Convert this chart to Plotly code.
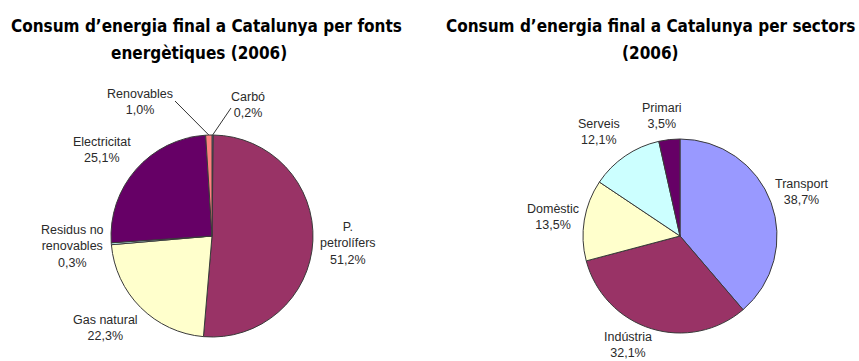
import math
import plotly.graph_objects as go

W, H = 859, 361

# ---- data ----
fonts_labels = ["Carbó", "P.<br>petrolífers", "Gas natural", "Residus no<br>renovables", "Electricitat", "Renovables"]
fonts_values = [0.2, 51.2, 22.3, 0.3, 25.1, 1.0]
fonts_text = ["0,2%", "51,2%", "22,3%", "0,3%", "25,1%", "1,0%"]
fonts_colors = ["#9999FF", "#993366", "#FFFFCC", "#CCFFFF", "#660066", "#FF8080"]

sect_labels = ["Transport", "Indústria", "Domèstic", "Serveis", "Primari"]
sect_values = [38.7, 32.1, 13.5, 12.1, 3.5]
sect_text = ["38,7%", "32,1%", "13,5%", "12,1%", "3,5%"]
sect_colors = ["#9999FF", "#993366", "#FFFFCC", "#CCFFFF", "#660066"]

title_left_lines = ["Consum d’energia final a Catalunya per fonts", "energètiques (2006)"]
title_right_lines = ["Consum d’energia final a Catalunya per sectors", "(2006)"]

# ---- layout geometry (pixels) ----
L_CX, L_CY, L_R = 212, 236, 101
R_CX, R_CY, R_R = 680, 236, 97

def px(x):
    return x / W

def py(y):
    return 1 - y / H

def domain(cx, cy, r):
    return dict(x=[px(cx - r), px(cx + r)], y=[py(cy + r), py(cy - r)])

fig = go.Figure()
fig.add_trace(go.Pie(
    labels=fonts_labels, values=fonts_values, sort=False, direction="clockwise", rotation=0,
    marker=dict(colors=fonts_colors, line=dict(color="#3a3a3a", width=1)),
    textinfo="none", hoverinfo="label+value", domain=domain(L_CX, L_CY, L_R), showlegend=False,
))
fig.add_trace(go.Pie(
    labels=sect_labels, values=sect_values, sort=False, direction="clockwise", rotation=0,
    marker=dict(colors=sect_colors, line=dict(color="#3a3a3a", width=1)),
    textinfo="none", hoverinfo="label+value", domain=domain(R_CX, R_CY, R_R), showlegend=False,
))

label_font = dict(family="Liberation Sans, Arial, sans-serif", size=12.5, color="#2a2a2a")
title_font = dict(family="DejaVu Sans Condensed, sans-serif", size=17, color="#000000")

annotations = []
for lines, xs in [(title_left_lines, (206, 199)), (title_right_lines, (650, 650))]:
    for line, x, y in zip(lines, xs, (26, 53)):
        annotations.append(dict(text=f"<b>{line}</b>", x=px(x), y=py(y), xanchor="center",
                                yanchor="middle", font=title_font))

# label placement (pixel centres)
left_pos = {"Carbó": (248, 105), "P.<br>petrolífers": (348, 243), "Gas natural": (105, 328),
            "Residus no<br>renovables": (72, 246), "Electricitat": (102, 150), "Renovables": (140, 102)}
right_pos = {"Transport": (802, 192), "Indústria": (628, 345), "Domèstic": (553, 217),
             "Serveis": (599, 132), "Primari": (662, 116)}

for lab, t in zip(fonts_labels, fonts_text):
    x, y = left_pos[lab]
    annotations.append(dict(text=f"{lab}<br>{t}", x=px(x), y=py(y), xanchor="center", yanchor="middle",
                            font=label_font))
for lab, t in zip(sect_labels, sect_text):
    x, y = right_pos[lab]
    annotations.append(dict(text=f"{lab}<br>{t}", x=px(x), y=py(y), xanchor="center", yanchor="middle",
                            font=label_font))

for a in annotations:
    a.update(xref="paper", yref="paper", showarrow=False)

# leader lines for the two tiny slices, ending at the slice mid-angle on the rim
def rim_point(values, idx, cx, cy, r):
    tot = sum(values)
    mid = (sum(values[:idx]) + values[idx] / 2) / tot * 2 * math.pi
    return cx + r * math.sin(mid), cy - r * math.cos(mid)

shapes = []
for idx, start in [(fonts_labels.index("Renovables"), (175, 101)), (fonts_labels.index("Carbó"), (231, 108))]:
    ex, ey = rim_point(fonts_values, idx, L_CX, L_CY, L_R)
    shapes.append(dict(type="line", xref="paper", yref="paper",
                       x0=px(start[0]), y0=py(start[1]), x1=px(ex), y1=py(ey),
                       line=dict(color="#333333", width=1)))

fig.update_layout(
    width=W, height=H, margin=dict(l=0, r=0, t=0, b=0),
    paper_bgcolor="white", plot_bgcolor="white",
    annotations=annotations, shapes=shapes,
)
fig.write_html("out.html")
